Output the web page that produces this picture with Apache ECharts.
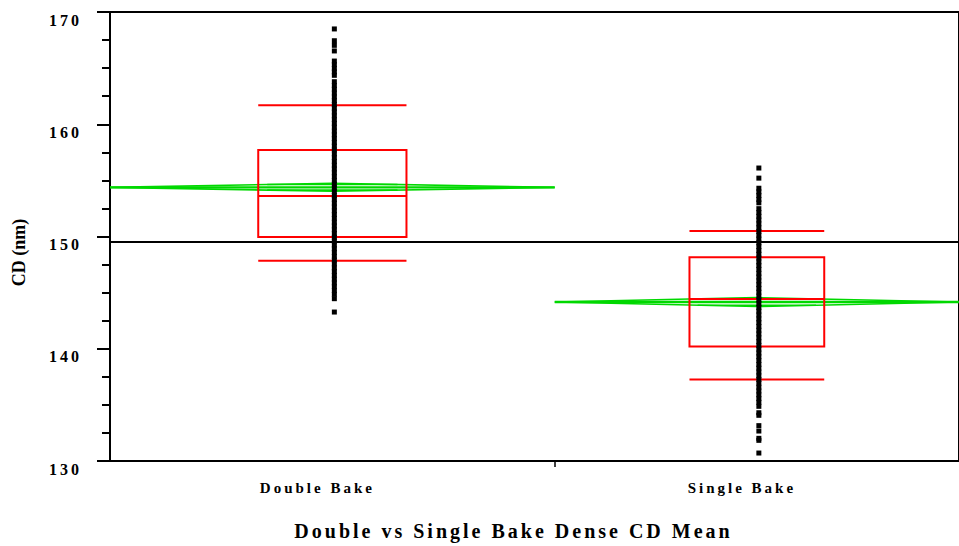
<!DOCTYPE html>
<html>
<head>
<meta charset="utf-8">
<script src="https://cdn.jsdelivr.net/npm/echarts@6/dist/echarts.min.js"></script>
<style>
  html, body { margin: 0; padding: 0; background: #fff; }
  #chart { width: 959px; height: 546px; }
  #chart svg text { letter-spacing: 3px; }
  #chart svg text[style*="NoSpace"], #chart svg text[font-family*="NoSpace"] { letter-spacing: 0; }
</style>
</head>
<body>
<div id="chart"></div>
<script>
// ---- data ----
const groups = ['Double Bake', 'Single Bake'];
const groupN = [1100, 1000];            // relative sample sizes (x axis proportional)
const capLow  = [147.85, 137.25];
const q1      = [149.95, 140.2];
const median  = [153.6, 144.43];
const q3      = [157.7, 148.15];
const capHigh = [161.7, 150.5];
const means   = [154.38, 144.16];
const ciHalf  = [0.35, 0.4];
const grandMean = 149.5;
const yMin = 130, yMax = 170, yStep = 10;

const doubleBake = [
  168.49, 167.44, 167.03, 166.53,
  165.63, 165.31, 164.98, 164.66, 164.36,
  163.79, 163.45, 163.12, 162.78, 162.44, 162.11, 161.77, 161.42, 161.09, 160.75,
  160.41, 160.08, 159.74, 159.39, 159.06, 158.72, 158.38, 158.05, 157.71, 157.36,
  157.03, 156.69, 156.35, 156.02, 155.68, 155.33, 155.0, 154.66, 154.32, 153.99,
  153.65, 153.3, 152.97, 152.63, 152.29, 151.96, 151.62, 151.27, 150.94, 150.6,
  150.26, 149.93, 149.59, 149.24, 148.91, 148.57, 148.23, 147.9, 147.56, 147.21,
  146.88, 146.54, 146.2, 145.87, 145.53, 145.18, 144.85, 144.46,
  143.27
];
const singleBake = [
  156.1, 155.2,
  154.3, 153.98, 153.65, 153.3, 153.0,
  152.48, 152.14, 151.8, 151.47, 151.13, 150.78, 150.45, 150.11, 149.77, 149.44,
  149.1, 148.75, 148.42, 148.08, 147.74, 147.41, 147.07, 146.72, 146.39, 146.05,
  145.71, 145.38, 145.04, 144.69, 144.36, 144.02, 143.68, 143.35, 143.01, 142.66,
  142.33, 141.99, 141.65, 141.32, 140.98, 140.63, 140.3, 139.96, 139.62, 139.29,
  138.95, 138.6, 138.27, 137.93, 137.59, 137.26, 136.92, 136.57, 136.24, 135.9,
  135.56, 135.23, 134.87,
  134.3, 134.07,
  133.15,
  132.67,
  132.02, 131.84,
  130.71
];
const pointSets = [doubleBake, singleBake];

// ---- derived group extents on proportional x axis ----
const starts = [], ends = [], centers = [];
let acc = 0;
groupN.forEach((n) => { starts.push(acc); centers.push(acc + n / 2); acc += n; ends.push(acc); });
const total = acc;

const RED = '#ff0000', GREEN = '#00d800';

const boxData = groups.map((g, i) => [starts[i], ends[i], capLow[i], q1[i], median[i], q3[i], capHigh[i]]);
const diamondData = groups.map((g, i) => [starts[i], ends[i], means[i], ciHalf[i]]);

function renderBox(params, api) {
  const s = api.value(0), e = api.value(1);
  const c = (s + e) / 2, half = (e - s) / 6;
  const L = api.coord([c - half, 0])[0], R = api.coord([c + half, 0])[0];
  const y = (k) => api.coord([c, api.value(k)])[1];
  const st = { stroke: RED, lineWidth: 2, fill: null };
  const line = (yy) => ({ type: 'line', shape: { x1: L, y1: yy, x2: R, y2: yy }, style: st });
  return {
    type: 'group',
    children: [
      { type: 'rect', shape: { x: L, y: y(5), width: R - L, height: y(3) - y(5) }, style: st },
      line(y(4)), line(y(2)), line(y(6))
    ]
  };
}

function renderDiamond(params, api) {
  const s = api.value(0), e = api.value(1), m = api.value(2), ci = api.value(3);
  const c = (s + e) / 2;
  const P = (x, v) => api.coord([x, v]);
  const st = { stroke: GREEN, lineWidth: 1.6, fill: null };
  const k = Math.SQRT1_2;
  const ow = (e - s) * (1 - k) / 2;
  return {
    type: 'group',
    children: [
      { type: 'polyline', shape: { points: [P(s, m), P(c, m + ci), P(e, m), P(c, m - ci), P(s, m)] }, style: st },
      { type: 'polyline', shape: { points: [P(s, m), P(e, m)] }, style: { stroke: GREEN, lineWidth: 2.4, fill: null } },
      { type: 'polyline', shape: { points: [P(c - ow, m + ci * k), P(c + ow, m + ci * k)] }, style: st },
      { type: 'polyline', shape: { points: [P(c - ow, m - ci * k), P(c + ow, m - ci * k)] }, style: st }
    ]
  };
}

const serif = '"Liberation Serif", "DejaVu Serif", serif';

const chart = echarts.init(document.getElementById('chart'), null, { renderer: 'svg' });
chart.setOption({
  animation: false,
  backgroundColor: '#fff',
  grid: { left: 110, right: -4.4, top: 12, bottom: 84, show: true, borderColor: '#000', borderWidth: 2 },
  xAxis: {
    type: 'value', min: 0, max: total,
    splitLine: { show: false },
    axisLine: { show: true, onZero: false, lineStyle: { color: '#000', width: 2 } },
    axisTick: { show: true, customValues: [ends[0]], length: 6, lineStyle: { color: '#000', width: 1.5 } },
    axisLabel: {
      customValues: centers,
      formatter: (v) => groups[centers.indexOf(v)] || '',
      margin: 19, color: '#000', fontFamily: serif, fontWeight: 'bold', fontSize: 15,
      padding: [0, 30, 0, 0]
    },
    name: 'Double vs Single Bake Dense CD Mean',
    nameLocation: 'middle', nameGap: 60,
    nameTextStyle: { color: '#000', fontFamily: serif, fontWeight: 'bold', fontSize: 20, padding: [0, 42, 0, 0] }
  },
  yAxis: {
    type: 'value', min: yMin, max: yMax, interval: yStep,
    splitLine: { show: false },
    axisLine: { show: true, lineStyle: { color: '#000', width: 2 } },
    axisTick: { show: true, length: 13, lineStyle: { color: '#000', width: 2 } },
    minorTick: { show: true, splitNumber: 4, length: 8, lineStyle: { color: '#000', width: 2 } },
    axisLabel: { margin: 28, color: '#000', fontFamily: serif, fontWeight: 'bold', fontSize: 16, verticalAlign: 'top' },
    name: 'CD (nm)',
    nameLocation: 'middle', nameGap: 82,
    nameTextStyle: { color: '#000', fontFamily: '"NoSpace", ' + serif, fontWeight: 'bold', fontSize: 18, padding: [0, 32, 0, 0] }
  },
  series: [
    { type: 'custom', name: 'means diamonds', data: diamondData, renderItem: renderDiamond, z: 2, silent: true },
    { type: 'custom', name: 'box plots', data: boxData, renderItem: renderBox, z: 3, silent: true },
    {
      type: 'line', name: 'grand mean', data: [[0, grandMean], [total, grandMean]],
      showSymbol: false, lineStyle: { color: '#000', width: 2 }, z: 4, silent: true
    },
    ...pointSets.map((pts, i) => ({
      type: 'scatter', name: groups[i],
      data: pts.map((v) => [centers[i], v]),
      symbol: 'rect', symbolSize: [5, 5], symbolOffset: [2, 0],
      itemStyle: { color: '#000', borderWidth: 0, opacity: 1 }, z: 5, silent: true
    }))
  ]
});
</script>
</body>
</html>
